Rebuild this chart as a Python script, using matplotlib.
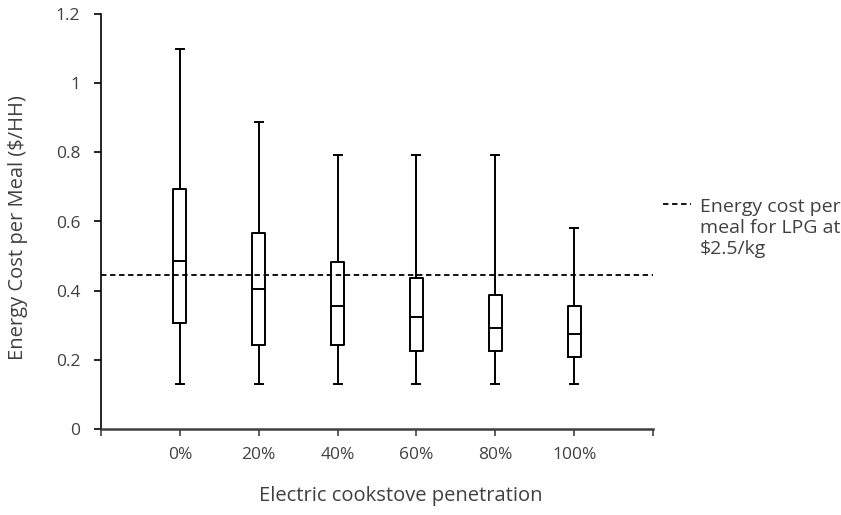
import matplotlib
matplotlib.use("Agg")
from matplotlib import pyplot as plt
from matplotlib.lines import Line2D

plt.rcParams["font.family"] = ["Open Sans", "DejaVu Sans"]

categories = ["0%", "20%", "40%", "60%", "80%", "100%"]
whisker_lo = [0.131, 0.131, 0.131, 0.131, 0.131, 0.131]
q1 = [0.306, 0.242, 0.242, 0.226, 0.226, 0.208]
median = [0.486, 0.405, 0.357, 0.324, 0.292, 0.276]
q3 = [0.695, 0.567, 0.483, 0.437, 0.387, 0.357]
whisker_hi = [1.099, 0.889, 0.791, 0.791, 0.791, 0.581]
lpg_cost = 0.446

text_color = "#404040"

stats = []
for i, cat in enumerate(categories):
    stats.append({
        "label": cat,
        "whislo": whisker_lo[i],
        "q1": q1[i],
        "med": median[i],
        "q3": q3[i],
        "whishi": whisker_hi[i],
        "fliers": [],
    })

fig = plt.figure(figsize=(8.41, 5.15), dpi=100)
ax = fig.add_axes([101 / 841, 86 / 515, 552 / 841, 415 / 515])

positions = list(range(1, len(categories) + 1))
lw = 1.4
ax.bxp(
    stats,
    positions=positions,
    widths=0.165,
    showfliers=False,
    boxprops=dict(color="black", linewidth=lw),
    whiskerprops=dict(color="black", linewidth=lw),
    capprops=dict(color="black", linewidth=lw),
    medianprops=dict(color="black", linewidth=lw),
    capwidths=0.1,
)

ax.axhline(lpg_cost, color="black", linewidth=1.3, dashes=(3, 2))

ax.set_xlim(0, 7)
ax.set_ylim(0, 1.2)
ax.set_xticks(range(0, 8))
ax.set_xticklabels([""] + categories + [""])
ax.set_yticks([0, 0.2, 0.4, 0.6, 0.8, 1.0, 1.2])
ax.set_yticklabels(["0", "0.2", "0.4", "0.6", "0.8", "1", "1.2"])

for side in ["top", "right"]:
    ax.spines[side].set_visible(False)
ax.spines["left"].set_linewidth(1.2)
ax.spines["bottom"].set_linewidth(1.8)
ax.spines["bottom"].set_color("#404040")
ax.tick_params(axis="both", direction="out", length=5, width=1.2,
               labelsize=12.5, colors=text_color)
ax.tick_params(axis="x", pad=8)
ax.tick_params(axis="y", colors="black", labelcolor=text_color, pad=10)

fig.text(18 / 841, 1 - 228 / 515, "Energy Cost per Meal ($/HH)", rotation=90,
         ha="center", va="center", fontsize=14.5, color=text_color)
fig.text(401 / 841, 1 - 496 / 515, "Electric cookstove penetration",
         ha="center", va="center", fontsize=14.5, color=text_color)

# legend drawn by hand so the dash sits on the first line
fig.lines.append(Line2D([663 / 841, 691 / 841], [1 - 204 / 515, 1 - 204 / 515],
                        transform=fig.transFigure, color="black",
                        linewidth=1.3, dashes=(3, 2)))
fig.text(700 / 841, 1 - 254 / 515, "Energy cost per\nmeal for LPG at\n$2.5/kg",
         ha="left", va="baseline", fontsize=14, color=text_color,
         linespacing=1.2)

fig.savefig("out.png", dpi=100)
